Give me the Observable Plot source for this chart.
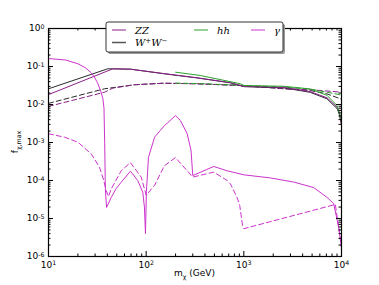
<!DOCTYPE html>
<html><head><meta charset="utf-8">
<script src="https://cdn.jsdelivr.net/npm/d3@7"></script>
<script src="https://cdn.jsdelivr.net/npm/@observablehq/plot@0.6"></script>
<style>body{margin:0;background:#fff} #chart{position:relative;width:379px;height:285px}</style>
</head><body><div id="chart"></div>
<script>
// ---- data (m_chi in GeV, f_chi,max) ----
const gammaSolidM = [10,15,20,24,27.4,29.5,31.6,34,36,37,37.6,38.2,39.3,43.9,49,55.5,69,82,92.3,96,98.4,100.5,105.6,122,140,153.8,164,199.5,224,263,288,300,492,676,1000,1871,3236,5200,7112,8318,9354,10000];
const gammaSolidF = [0.162,0.148,0.118,0.092,0.068,0.053,0.038,0.024,0.0145,0.008,0.001,6e-5,1.95e-5,3.6e-5,6.0e-5,9.0e-5,1.76e-4,1.0e-4,4.9e-5,2e-5,4e-6,5e-5,4.07e-4,1.38e-3,2.1e-3,2.8e-3,3.2e-3,5.1e-3,3.8e-3,1.7e-3,6.2e-4,1.35e-4,2.34e-4,1.8e-4,1.41e-4,1.17e-4,9.1e-5,6.5e-5,3.6e-5,2.45e-5,5.9e-6,1.7e-6];
const gammaDashM = [10,14.6,20,27.4,33.3,36.8,38.9,41.1,43.9,55.5,69,89,100,121.6,153.8,199.5,300,492,676,730,851,908,975,1000,8650,9354,10000];
const gammaDashF = [1.7e-3,1.38e-3,1.02e-3,5.0e-4,2.24e-4,1e-4,5.5e-5,3.8e-5,6.0e-5,1.8e-4,2.95e-4,1.23e-4,4.1e-5,7.4e-5,2.45e-4,4.0e-4,1.23e-4,1.66e-4,1.0e-4,8.1e-5,3.6e-5,2.2e-5,5.9e-6,5.4e-6,2.34e-5,5.9e-6,1.7e-6];
const wwSolidM = [10,40.5,69,151,331,730,1000,2570,4786,7112,9016,9500,9772,10000];
const wwSolidF = [0.0259,0.0871,0.0851,0.0646,0.0501,0.0372,0.0295,0.0275,0.0209,0.0141,0.0078,0.0056,0.0038,0.00295];
const zzSolidM = [10,45.6,69,151,331,730,1000,2570,4786,7112,9016,9500,9772,10000];
const zzSolidF = [0.0182,0.087,0.0851,0.0652,0.0505,0.0375,0.0298,0.0282,0.0218,0.0150,0.0085,0.0062,0.0043,0.0033];
const hhSolidM = [200,359,923,1000,2570,4786,7112,9016,9772,10000];
const hhSolidF = [0.0708,0.058,0.0351,0.0315,0.0302,0.0257,0.0174,0.0093,0.0047,0.0038];
const wwDashM = [10,37.4,76,151,331,923,2570,4786,7112,9772,10000];
const wwDashF = [0.0107,0.0259,0.0331,0.0363,0.0351,0.0316,0.0259,0.0234,0.019,0.0141,0.0135];
const zzDashM = [10,37.4,45.6,76,151,331,923,2570,4786,7112,9772,10000];
const zzDashF = [0.0089,0.021,0.027,0.0331,0.0363,0.0351,0.0316,0.0262,0.0245,0.0226,0.0212,0.021];
const hhDashM = [200,331,923,2570,4786,7112,10000];
const hhDashF = [0.0365,0.0356,0.0322,0.0285,0.0255,0.021,0.0178];

const xTicks = [10,100,1000,10000];
const xTickExp = ["1","2","3","4"];
const yTicks = [1e-6,1e-5,1e-4,1e-3,1e-2,1e-1,1];
const yTickExp = ["-6","-5","-4","-3","-2","-1","0"];
const legendNames = ["ZZ","W+W-","hh","γ"];

// ---- styling ----
const colZZ = "#8a1f8a", colWW = "#2a2a2a", colHH = "#2ca02c", colGA = "#cc33cc";
const W = 379, H = 285, mL = 48, mR = 38, mT = 28, mB = 29;
const iW = W - mL - mR, iH = H - mT - mB;

const pts = (ms, fs) => ms.map((m, i) => ({m, f: fs[i]}));
const minor = (decades) => decades.flatMap(d => [2,3,4,5,6,7,8,9].map(k => d * k));
const xMinor = minor([10,100,1000]);
const yMinor = minor([1e-6,1e-5,1e-4,1e-3,1e-2,1e-1]);

const series = [
  {d: pts(wwDashM, wwDashF), c: colWW, dash: true},
  {d: pts(zzDashM, zzDashF), c: colZZ, dash: true},
  {d: pts(hhDashM, hhDashF), c: colHH, dash: true},
  {d: pts(gammaDashM, gammaDashF), c: colGA, dash: true},
  {d: pts(wwSolidM, wwSolidF), c: colWW, dash: false},
  {d: pts(zzSolidM, zzSolidF), c: colZZ, dash: false},
  {d: pts(hhSolidM, hhSolidF), c: colHH, dash: false},
  {d: pts(gammaSolidM, gammaSolidF), c: colGA, dash: false}
];

const marks = [];
for (const s of series) {
  marks.push(Plot.line(s.d, {x: "m", y: "f", stroke: s.c, strokeWidth: 1,
    strokeDasharray: s.dash ? "5,3" : null, clip: true}));
}
const tk = "#000";
marks.push(
  Plot.ruleX(xTicks, {insetTop: iH - 5, stroke: tk}),
  Plot.ruleX(xTicks, {insetBottom: iH - 5, stroke: tk}),
  Plot.ruleX(xMinor, {insetTop: iH - 2.5, stroke: tk}),
  Plot.ruleX(xMinor, {insetBottom: iH - 2.5, stroke: tk}),
  Plot.ruleY(yTicks, {insetRight: iW - 5, stroke: tk}),
  Plot.ruleY(yTicks, {insetLeft: iW - 5, stroke: tk}),
  Plot.ruleY(yMinor, {insetRight: iW - 2.5, stroke: tk}),
  Plot.ruleY(yMinor, {insetLeft: iW - 2.5, stroke: tk}),
  Plot.frame({stroke: "#000", strokeWidth: 1.2}),
  Plot.axisX(xTicks, {tickSize: 0, tickPadding: 5, label: null,
    tickFormat: d => "10^" + xTickExp[xTicks.indexOf(d)]}),
  Plot.axisY(yTicks, {tickSize: 0, tickPadding: 4, label: null,
    tickFormat: d => "10^" + yTickExp[yTicks.indexOf(d)]})
);

const chart = Plot.plot({
  width: W, height: H,
  marginLeft: mL, marginRight: mR, marginTop: mT, marginBottom: mB,
  x: {type: "log", domain: [10, 10000]},
  y: {type: "log", domain: [1e-6, 1]},
  style: {fontFamily: "DejaVu Sans, sans-serif", fontSize: "9px", background: "#fff", color: "#000", overflow: "visible"},
  marks
});
document.getElementById("chart").appendChild(chart);

const svg = d3.select(chart);
// superscripts in tick labels
svg.selectAll("text").each(function() {
  const m = this.textContent.match(/^10\^(.+)$/);
  if (m) {
    const t = d3.select(this);
    t.text("10");
    t.append("tspan").attr("dy", "-0.45em").attr("font-size", "6.3px").text(m[1]);
  }
});

// axis titles
const xl = svg.append("text").attr("x", mL + iW / 2).attr("y", 276)
  .attr("text-anchor", "middle").attr("font-size", "9px").attr("font-family", "DejaVu Sans, sans-serif");
xl.append("tspan").text("m");
xl.append("tspan").attr("dy", "2.5").attr("font-size", "6.3px").text("χ");
xl.append("tspan").attr("dy", "-2.5").text(" (GeV)");

const yl = svg.append("text").attr("transform", `translate(18,${mT + iH / 2}) rotate(-90)`)
  .attr("text-anchor", "middle").attr("font-size", "9px").attr("font-family", "DejaVu Sans, sans-serif");
yl.append("tspan").text("f");
yl.append("tspan").attr("dy", "2.5").attr("font-size", "6.3px").text("χ,max");

// legend
const lg = svg.append("g").attr("text-anchor", "start");
const bx = 106, by = 22, bw = 177, bh = 30;
lg.append("rect").attr("x", bx + 2).attr("y", by + 2).attr("width", bw).attr("height", bh)
  .attr("rx", 2).attr("fill", "#999");
lg.append("rect").attr("x", bx).attr("y", by).attr("width", bw).attr("height", bh)
  .attr("rx", 2).attr("fill", "#fff").attr("stroke", "#333").attr("stroke-width", 1);
const entries = [
  {name: legendNames[0], c: colZZ, x: 112, y: 30},
  {name: legendNames[2], c: colHH, x: 194, y: 30},
  {name: legendNames[3], c: colGA, x: 251, y: 30},
  {name: legendNames[1], c: "#555", x: 112, y: 42.5}
];
for (const e of entries) {
  lg.append("line").attr("x1", e.x).attr("x2", e.x + 14).attr("y1", e.y).attr("y2", e.y)
    .attr("stroke", e.c).attr("stroke-width", e.name === "W+W-" ? 1.5 : 1);
  const t = lg.append("text").attr("x", e.x + 23).attr("y", e.y + 3.5).attr("text-anchor", "start")
    .attr("font-family", "DejaVu Serif, serif").attr("font-style", "italic").attr("font-size", "10px");
  if (e.name === "W+W-") {
    t.append("tspan").text("W");
    t.append("tspan").attr("dy", "-3.5").attr("font-size", "7px").text("+");
    t.append("tspan").attr("dy", "3.5").text("W");
    t.append("tspan").attr("dy", "-3.5").attr("font-size", "7px").text("−");
  } else {
    t.text(e.name);
  }
}
</script>
</body></html>
